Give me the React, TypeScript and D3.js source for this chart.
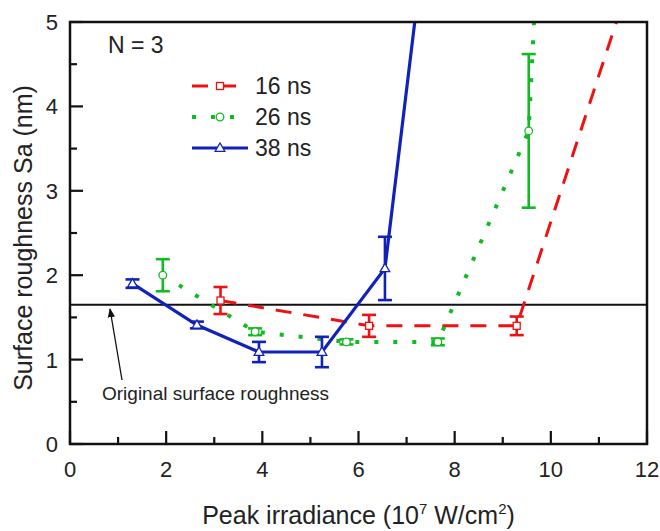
import React from "react";
import * as d3 from "d3";

const x16 = [3.13, 6.22, 9.29, 12.4];
const y16 = [1.7, 1.4, 1.4, 6.8];
const e16 = [0.16, 0.13, 0.11, 0];

const x26 = [1.93, 3.85, 5.75, 7.65, 9.54, 10.0];
const y26 = [2.0, 1.33, 1.21, 1.21, 3.71, 9.1];
const e26 = [0.19, 0.04, 0.03, 0.04, 0.91, 0];

const x38 = [1.3, 2.64, 3.93, 5.24, 6.55, 7.86];
const y38 = [1.9, 1.41, 1.09, 1.09, 2.08, 8.25];
const e38 = [0.05, 0.04, 0.12, 0.18, 0.375, 0];

const seriesNames = ["16 ns", "26 ns", "38 ns"];
const xTicks = [0, 2, 4, 6, 8, 10, 12];
const yTicks = [0, 1, 2, 3, 4, 5];
const originalRoughness = 1.65;

const W = 660, H = 531;
const L = 70, R = 647, T = 22, B = 444;
const FONT = "'Liberation Sans', Arial, sans-serif";

const xs = d3.scaleLinear().domain([0, 12]).range([L, R]);
const ys = d3.scaleLinear().domain([0, 5]).range([B, T]);

type S = { name: string; x: number[]; y: number[]; e: number[]; color: string; dash: string; marker: string; width: number };

const series: S[] = [
  { name: seriesNames[0], x: x16, y: y16, e: e16, color: "#ee1111", dash: "16,12", marker: "square", width: 3 },
  { name: seriesNames[1], x: x26, y: y26, e: e26, color: "#11bb22", dash: "4,15", marker: "circle", width: 4 },
  { name: seriesNames[2], x: x38, y: y38, e: e38, color: "#1122bb", dash: "none", marker: "triangle", width: 3.2 },
];

function Marker({ type, cx, cy, color }: { type: string; cx: number; cy: number; color: string }) {
  if (type === "square") return <rect x={cx - 3.5} y={cy - 3.5} width={7} height={7} fill="white" stroke={color} strokeWidth={1.3} />;
  if (type === "circle") return <circle cx={cx} cy={cy} r={3.8} fill="white" stroke={color} strokeWidth={1.3} />;
  const s = d3.symbol().type(d3.symbolTriangle).size(40)();
  return <path d={s!} transform={`translate(${cx},${cy + 0.5})`} fill="white" stroke={color} strokeWidth={1.3} />;
}

export default function App() {
  return (
    <svg width={W} height={H} style={{ position: "absolute", left: 0, top: 0, background: "white" }} fontFamily={FONT}>
      <defs>
        <clipPath id="plot"><rect x={L} y={T} width={R - L} height={B - T} /></clipPath>
        <marker id="arr" viewBox="0 0 10 10" refX="9" refY="5" markerWidth="7" markerHeight="7" orient="auto">
          <path d="M0,1 L10,5 L0,9 z" fill="#111" />
        </marker>
      </defs>
      <line x1={L} x2={R} y1={ys(originalRoughness)} y2={ys(originalRoughness)} stroke="#111" strokeWidth={2.2} />
      <g clipPath="url(#plot)">
        {series.map((s) => {
          const pts = s.x.map((x, i) => [xs(x), ys(s.y[i])] as [number, number]);
          return (
            <g key={s.name}>
              <path d={d3.line()(pts)!} fill="none" stroke={s.color} strokeWidth={s.width} strokeDasharray={s.dash} />
              {s.x.map((x, i) => s.e[i] > 0 ? (
                <g key={i} stroke={s.color} strokeWidth={2.6}>
                  <line x1={xs(x)} x2={xs(x)} y1={ys(s.y[i] - s.e[i])} y2={ys(s.y[i] + s.e[i])} />
                  <line x1={xs(x) - 7} x2={xs(x) + 7} y1={ys(s.y[i] - s.e[i])} y2={ys(s.y[i] - s.e[i])} />
                  <line x1={xs(x) - 7} x2={xs(x) + 7} y1={ys(s.y[i] + s.e[i])} y2={ys(s.y[i] + s.e[i])} />
                </g>
              ) : null)}
              {s.x.map((x, i) => s.e[i] > 0 ? <Marker key={"m" + i} type={s.marker} cx={xs(x)} cy={ys(s.y[i])} color={s.color} /> : null)}
            </g>
          );
        })}
      </g>
      <rect x={L} y={T} width={R - L} height={B - T} fill="none" stroke="#111" strokeWidth={2.5} />
      {d3.range(0, 12.01, 1).map((v) => (
        <line key={"xt" + v} x1={xs(v)} x2={xs(v)} y1={B} y2={B - (v % 2 === 0 ? 13 : 7)} stroke="#111" strokeWidth={2.2} />
      ))}
      {d3.range(0, 5.01, 0.5).map((v) => (
        <line key={"yt" + v} x1={L} x2={L + (v % 1 === 0 ? 13 : 7)} y1={ys(v)} y2={ys(v)} stroke="#111" strokeWidth={2.2} />
      ))}
      {xTicks.map((v) => (
        <text key={"xl" + v} x={xs(v)} y={B + 33} textAnchor="middle" fontSize={22} fill="#222">{v}</text>
      ))}
      {yTicks.map((v) => (
        <text key={"yl" + v} x={L - 12} y={ys(v) + 8} textAnchor="end" fontSize={22} fill="#222">{v}</text>
      ))}
      <text x={(L + R) / 2} y={524} textAnchor="middle" fontSize={25} fill="#222">
        Peak irradiance (10<tspan dy={-10} fontSize={15}>7</tspan><tspan dy={10}> W/cm</tspan><tspan dy={-10} fontSize={15}>2</tspan><tspan dy={10}>)</tspan>
      </text>
      <text transform={`translate(32,${(T + B) / 2 + 5}) rotate(-90)`} textAnchor="middle" fontSize={25} fill="#222">Surface roughness Sa (nm)</text>
      <text x={108} y={53} fontSize={23} fill="#222">N = 3</text>
      {series.map((s, i) => {
        const y = 86 + i * 31;
        return (
          <g key={"lg" + i}>
            <line x1={192} x2={i === 0 ? 242 : 248} y1={y} y2={y} stroke={s.color} strokeWidth={s.width} strokeDasharray={s.dash} />
            <Marker type={s.marker} cx={220} cy={y} color={s.color} />
            <text x={255} y={y + 8} fontSize={23} fill="#222">{s.name}</text>
          </g>
        );
      })}
      <line x1={122} y1={380} x2={110} y2={309} stroke="#111" strokeWidth={1.3} markerEnd="url(#arr)" />
      <text x={102} y={400} fontSize={19} fill="#222">Original surface roughness</text>
    </svg>
  );
}
